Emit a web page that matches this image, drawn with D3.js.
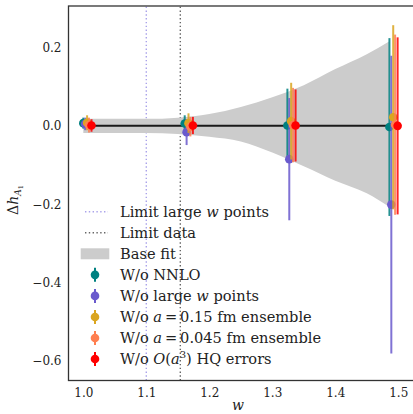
<!DOCTYPE html>
<html>
<head>
<meta charset="utf-8">
<script src="https://cdn.jsdelivr.net/npm/d3@7"></script>
<style>
  body { margin: 0; background: #fff; }
  svg { display: block; }
  text { font-family: "DejaVu Serif", serif; fill: #222; }
</style>
</head>
<body>
<div id="chart"></div>
<script>
// positions of the four w points and per-series horizontal shift
const wPoints = [1.0, 1.161, 1.324, 1.486];
const seriesNames = ["nnlo", "large", "a015", "a045", "hq"];
const seriesShift = [0, 0.003, 0.006, 0.009, 0.013];

// central values and errors
const nnloVal = [0.007, 0.006, 0.001, -0.003];
const nnloErr = [0.014, 0.021, 0.094, 0.227];
const largeVal = [0.005, -0.016, -0.085, -0.201];
const largeErr = [0.016, 0.033, 0.156, 0.380];
const a015Val = [0.008, 0.007, 0.012, 0.022];
const a015Err = [0.019, 0.025, 0.098, 0.235];
const a045Val = [0.002, -0.002, 0.002, 0.003];
const a045Err = [0.019, 0.025, 0.095, 0.230];
const hqVal = [0.001, 0.001, 0.001, 0.000];
const hqErr = [0.016, 0.022, 0.092, 0.226];

// base fit band
const bandW = [1.0, 1.05, 1.1, 1.15, 1.2, 1.25, 1.3, 1.35, 1.4, 1.45, 1.486];
const bandHi = [0.018, 0.018, 0.018, 0.021, 0.030, 0.048, 0.073, 0.104, 0.145, 0.183, 0.216];
const bandLo = [-0.018, -0.018, -0.018, -0.021, -0.028, -0.040, -0.068, -0.103, -0.140, -0.172, -0.207];

const limitLarge = 1.10;
const limitData = 1.154;
const xTicks = [1.0, 1.1, 1.2, 1.3, 1.4, 1.5];
const yTicks = [-0.6, -0.4, -0.2, 0.0, 0.2];

const colors = {nnlo: "#008080", large: "#6a5acd", a015: "#daa520", a045: "#ff7f50", hq: "#ff0000"};
const values = {nnlo: nnloVal, large: largeVal, a015: a015Val, a045: a045Val, hq: hqVal};
const errors = {nnlo: nnloErr, large: largeErr, a015: a015Err, a045: a045Err, hq: hqErr};

const width = 413, height = 414;
const margin = {left: 68.5, top: 6, bottom: 33.5};

const svg = d3.select("#chart").append("svg")
    .attr("width", width)
    .attr("height", height);

const x = d3.scaleLinear().domain([0.9765, 1.525]).range([margin.left, 414]);
const y = d3.scaleLinear().domain([-0.65, 0.306]).range([height - margin.bottom, margin.top]);

const plot = svg.append("g");

// limit lines
plot.append("line")
    .attr("x1", x(limitLarge)).attr("x2", x(limitLarge))
    .attr("y1", y.range()[0]).attr("y2", y.range()[1])
    .attr("stroke", "#aaa3ea").attr("stroke-width", 1.4)
    .attr("stroke-dasharray", "1.4,2.4");
plot.append("line")
    .attr("x1", x(limitData)).attr("x2", x(limitData))
    .attr("y1", y.range()[0]).attr("y2", y.range()[1])
    .attr("stroke", "#666").attr("stroke-width", 1.4)
    .attr("stroke-dasharray", "1.4,2.4");

// band
const bandData = bandW.map((w, i) => [w, bandLo[i], bandHi[i]]);
const area = d3.area()
    .x(d => x(d[0]))
    .y0(d => y(d[1]))
    .y1(d => y(d[2]))
    .curve(d3.curveMonotoneX);
plot.append("path")
    .datum(bandData)
    .attr("d", area)
    .attr("fill", "#cccccc");

// central line
plot.append("line")
    .attr("x1", x(1.0)).attr("x2", x(1.499))
    .attr("y1", y(0)).attr("y2", y(0))
    .attr("stroke", "#1a1a1a").attr("stroke-width", 2);

// error bars
seriesNames.forEach((s, k) => {
    const g = plot.append("g").attr("class", "series " + s);
    const pts = wPoints.map((w, i) => ({w: w + seriesShift[k], v: values[s][i], e: errors[s][i]}));
    g.selectAll("line").data(pts).enter().append("line")
        .attr("x1", d => x(d.w)).attr("x2", d => x(d.w))
        .attr("y1", d => y(d.v - d.e)).attr("y2", d => y(d.v + d.e))
        .attr("stroke", colors[s]).attr("stroke-width", 2).attr("opacity", 0.85);
    g.selectAll("circle").data(pts).enter().append("circle")
        .attr("cx", d => x(d.w)).attr("cy", d => y(d.v))
        .attr("r", 4.3).attr("fill", colors[s]);
});

// frame
svg.append("rect")
    .attr("x", margin.left).attr("y", margin.top)
    .attr("width", 400).attr("height", y.range()[0] - margin.top)
    .attr("fill", "none").attr("stroke", "#333").attr("stroke-width", 1.3);

// axes
const xAxis = svg.append("g")
    .attr("transform", "translate(0," + y.range()[0] + ")")
    .call(d3.axisBottom(x).tickValues(xTicks).tickSize(0).tickPadding(8).tickFormat(d3.format(".1f")));
const yAxis = svg.append("g")
    .attr("transform", "translate(" + margin.left + ",0)")
    .call(d3.axisLeft(y).tickValues(yTicks).tickSize(0).tickPadding(7).tickFormat(d3.format(".1f")));
[xAxis, yAxis].forEach(a => {
    a.attr("font-family", null);
    a.select(".domain").remove();
    a.selectAll("text").style("font-family", "'DejaVu Serif', serif").style("font-size", "12px").attr("fill", "#222");
});

// axis labels
svg.append("text")
    .attr("x", 238).attr("y", 410)
    .attr("text-anchor", "middle")
    .style("font-size", "14px").style("font-style", "italic")
    .text("w");
const yl = svg.append("text")
    .attr("transform", "translate(18,200) rotate(-90)")
    .attr("text-anchor", "middle")
    .style("font-size", "14px");
yl.append("tspan").text("Δ");
yl.append("tspan").style("font-style", "italic").text("h");
yl.append("tspan").style("font-style", "italic").style("font-size", "9px").attr("dy", 3).text("A");
yl.append("tspan").style("font-size", "6.5px").attr("dy", 2).text("1");

// legend
const legend = svg.append("g");
const lx = 120, ly0 = 211.7, lstep = 21.05;
const rowY = i => ly0 + i * lstep;
const legendText = (i, parts) => {
    const t = legend.append("text")
        .attr("x", lx).attr("y", rowY(i) + 5)
        .style("font-size", "14.6px");
    parts.forEach(p => {
        const ts = t.append("tspan").text(p[0]);
        if (p[1] === "i") ts.style("font-style", "italic");
        if (p[1] === "sup") ts.style("font-size", "10px").attr("dy", -6);
        if (p[1] === "after") ts.attr("dy", 6);
    });
};
legend.append("line")
    .attr("x1", 85).attr("x2", 108).attr("y1", rowY(0)).attr("y2", rowY(0))
    .attr("stroke", "#aaa3ea").attr("stroke-width", 1.4).attr("stroke-dasharray", "1.4,2.4");
legendText(0, [["Limit large "], ["w", "i"], [" points"]]);
legend.append("line")
    .attr("x1", 85).attr("x2", 108).attr("y1", rowY(1)).attr("y2", rowY(1))
    .attr("stroke", "#666").attr("stroke-width", 1.4).attr("stroke-dasharray", "1.4,2.4");
legendText(1, [["Limit data"]]);
legend.append("rect")
    .attr("x", 80.7).attr("y", rowY(2) - 5.5).attr("width", 28.6).attr("height", 11)
    .attr("fill", "#cccccc");
legendText(2, [["Base fit"]]);

const labels = [
    [["W/o NNLO"]],
    [["W/o large "], ["w", "i"], [" points"]],
    [["W/o "], ["a", "i"], ["\u2009=\u20090.15 fm ensemble"]],
    [["W/o "], ["a", "i"], ["\u2009=\u20090.045 fm ensemble"]],
    [["W/o "], ["O", "i"], ["("], ["a", "i"], ["3", "sup"], [")", "after"], [" HQ errors"]]
];
seriesNames.forEach((s, k) => {
    const cy = rowY(3 + k);
    legend.append("line")
        .attr("x1", 95).attr("x2", 95).attr("y1", cy - 7).attr("y2", cy + 7)
        .attr("stroke", colors[s]).attr("stroke-width", 2);
    legend.append("circle").attr("cx", 95).attr("cy", cy).attr("r", 4.3).attr("fill", colors[s]);
    legendText(3 + k, labels[k]);
});
</script>
</body>
</html>
